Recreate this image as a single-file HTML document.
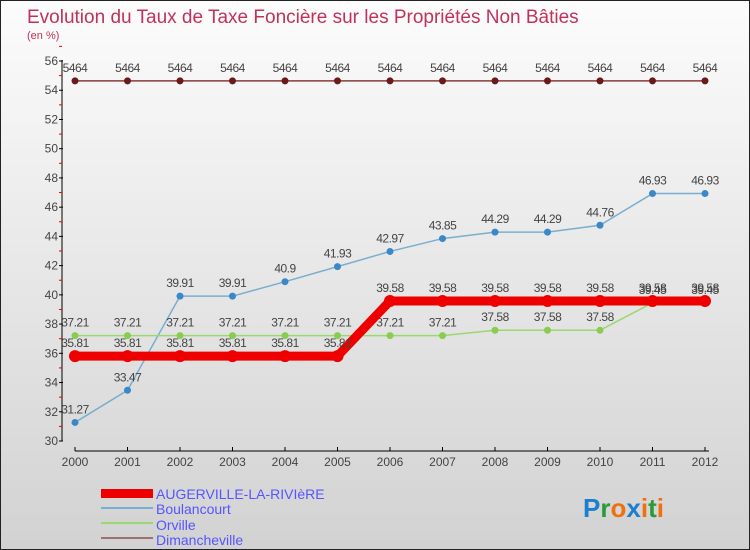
<!DOCTYPE html>
<html><head><meta charset="utf-8"><style>
body{margin:0}
#c{width:748px;height:548px;border:1px solid #222;background:linear-gradient(#fcfcfc,#d2d2d2);position:relative;font-family:"Liberation Sans",sans-serif;overflow:hidden}
</style></head><body>
<div id="c">
<svg id="s" width="748" height="548" xmlns="http://www.w3.org/2000/svg">
<text x="26" y="22" font-size="19" fill="#c0325a">Evolution du Taux de Taxe Foncière sur les Propriétés Non Bâties</text>
<text x="26" y="38" font-size="11" fill="#c0325a">(en %)</text>
<g id="axes"></g><g id="series"></g>
<g>
<rect x="100" y="488" width="52" height="9" fill="#e00"/>
<text x="155" y="498" font-size="14" fill="#55f">AUGERVILLE-LA-RIVIèRE</text>
<line x1="100" y1="507" x2="152" y2="507" stroke="#7aaed0" stroke-width="2"/>
<text x="155" y="513" font-size="14" fill="#55f">Boulancourt</text>
<line x1="100" y1="522" x2="152" y2="522" stroke="#9ad870" stroke-width="2"/>
<text x="155" y="529" font-size="14" fill="#55f">Orville</text>
<line x1="100" y1="537" x2="152" y2="537" stroke="#a07070" stroke-width="2"/>
<text x="155" y="544" font-size="14" fill="#55f">Dimancheville</text>
</g>
<text x="582" y="516" font-size="26" font-weight="bold"><tspan fill="#1a7fd0">P</tspan><tspan fill="#2a9a3a">r</tspan><tspan fill="#f07010">o</tspan><tspan fill="#1a7fd0">x</tspan><tspan fill="#f07010">i</tspan><tspan fill="#2a9a3a">t</tspan><tspan fill="#f07010">i</tspan></text>
</svg></div>
<script>
const years=[2000,2001,2002,2003,2004,2005,2006,2007,2008,2009,2010,2011,2012];
const yTicks=[30,32,34,36,38,40,42,44,46,48,50,52,54,56];
const augerville=[35.81,35.81,35.81,35.81,35.81,35.81,39.58,39.58,39.58,39.58,39.58,39.58,39.58];
const boulancourt=[31.27,33.47,39.91,39.91,40.9,41.93,42.97,43.85,44.29,44.29,44.76,46.93,46.93];
const orville=[37.21,37.21,37.21,37.21,37.21,37.21,37.21,37.21,37.58,37.58,37.58,39.45,39.45];
const dimancheville=[54.64,54.64,54.64,54.64,54.64,54.64,54.64,54.64,54.64,54.64,54.64,54.64,54.64];
const NS="http://www.w3.org/2000/svg";
const X=i=>74+i*52.5, Y=v=>440-(v-30)*(380/26);
function mk(p,t,a){const e=document.createElementNS(NS,t);for(const k in a)e.setAttribute(k,a[k]);p.appendChild(e);return e;}
const ax=document.getElementById('axes'), sr=document.getElementById('series');
let l=mk(ax,'line',{x1:61,y1:59,x2:61,y2:440,stroke:'#000'});

l=mk(ax,'line',{x1:74,y1:450,x2:708,y2:450,stroke:'#000'});

yTicks.forEach(v=>{mk(ax,'line',{x1:58,y1:Y(v),x2:62,y2:Y(v),stroke:'#000'});
 mk(ax,'line',{x1:58,y1:Y(v+1),x2:61,y2:Y(v+1),stroke:'#e00'});
 const t=mk(ax,'text',{x:57,y:Y(v)+4,'font-size':12,fill:'#444','text-anchor':'end'});t.textContent=v;
 });
years.forEach((y,i)=>{mk(ax,'line',{x1:X(i),y1:446,x2:X(i),y2:450,stroke:'#000'});
 const t=mk(ax,'text',{x:X(i),y:465,'font-size':12,fill:'#444','text-anchor':'middle'});t.textContent=y;
 });
function series(d,name,col,w,dot,r,lab){const g=mk(sr,'g',{});
 
 mk(g,'polyline',{points:d.map((v,i)=>X(i)+','+Y(v)).join(' '),fill:'none',stroke:col,'stroke-width':w});
 d.forEach((v,i)=>{const c=mk(g,'circle',{cx:X(i),cy:Y(v),r:r,fill:dot});
  
  const t=mk(g,'text',{x:X(i),y:Y(v)-9,'font-size':12,fill:'#444','text-anchor':'middle','letter-spacing':'-0.5'});
  t.textContent=String(v).replace('.','');
  if(lab)t.textContent=v;});}
series(dimancheville,'dimancheville','#8a3a3a',1.5,'#6a1a1a',3.5,false);
series(boulancourt,'boulancourt','#7aaed0',1.5,'#3a88c8',3.5,true);
series(orville,'orville','#9ad870',1.5,'#8acc50',3.5,true);
series(augerville,'augerville','#e00',9,'#e00',6,true);
</script>
</body></html>
